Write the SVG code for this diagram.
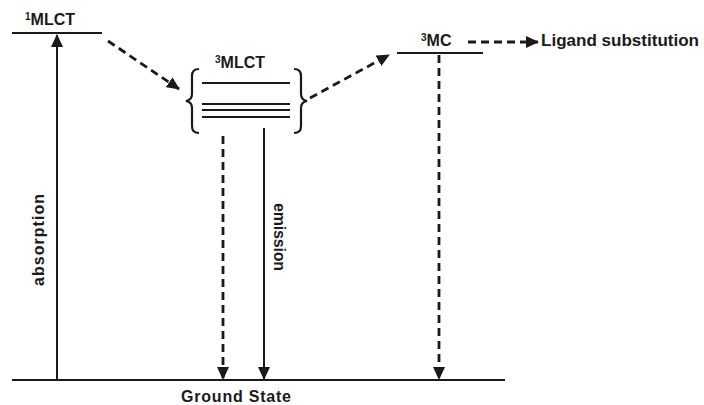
<svg xmlns="http://www.w3.org/2000/svg" width="704" height="405" viewBox="0 0 704 405">
<style>
text{font-family:"Liberation Sans",Arial,sans-serif;font-weight:bold;font-size:16px;fill:#1a1a1a}
.sup{font-size:10px}
.lv{stroke:#1a1a1a;stroke-width:2;fill:none}
.sol{stroke:#1a1a1a;stroke-width:2;fill:none}
.dash{stroke:#1a1a1a;stroke-width:2.8;fill:none;stroke-dasharray:8,5}
.br{stroke:#1a1a1a;stroke-width:2.2;fill:none}
</style>
<defs>
<marker id="ah" viewBox="0 0 13 12" refX="12" refY="6" markerWidth="13" markerHeight="12" markerUnits="userSpaceOnUse" orient="auto">
<path d="M0,0 L13,6 L0,12 Z" fill="#1a1a1a"/>
</marker>
</defs>
<rect width="704" height="405" fill="#fff"/>
<g id="mlct1">
<line class="lv" x1="12" y1="33" x2="102" y2="33"/>
<text x="25" y="25"><tspan class="sup" dy="-5">1</tspan><tspan dy="5">MLCT</tspan></text>
</g>
<g id="mlct3">
<text x="215" y="68"><tspan class="sup" dy="-5">3</tspan><tspan dy="5">MLCT</tspan></text>
<line class="lv" x1="202" y1="83" x2="290" y2="83" stroke-width="1.5"/>
<line class="lv" x1="202" y1="104" x2="290" y2="104"/>
<line class="lv" x1="202" y1="110" x2="290" y2="110"/>
<line class="lv" x1="202" y1="117" x2="290" y2="117"/>
<path class="br" d="M199,69 Q192,69 192,76 L192,94 Q192,100 186,101 Q192,102 192,108 L192,126 Q192,133 199,133"/>
<path class="br" d="M294,69 Q301,69 301,76 L301,94 Q301,100 307,101 Q301,102 301,108 L301,126 Q301,133 294,133"/>
</g>
<g id="mc3">
<line class="lv" x1="397" y1="53" x2="483" y2="53"/>
<text x="421" y="46"><tspan class="sup" dy="-5">3</tspan><tspan dy="5">MC</tspan></text>
</g>
<g id="ligand">
<text x="541" y="46" textLength="158" lengthAdjust="spacingAndGlyphs">Ligand substitution</text>
</g>
<g id="ground">
<line class="lv" x1="12" y1="380" x2="505" y2="380"/>
<text x="181" y="402" textLength="110">Ground State</text>
</g>
<g id="connectors">
<line class="sol" x1="57" y1="380" x2="57" y2="35" marker-end="url(#ah)"/>
<text transform="translate(44,240) rotate(-90)" text-anchor="middle" textLength="92">absorption</text>
<line class="dash" x1="108" y1="41" x2="179" y2="89" marker-end="url(#ah)"/>
<line class="dash" x1="310" y1="98" x2="389" y2="55" marker-end="url(#ah)"/>
<line class="dash" x1="468" y1="42" x2="538" y2="42" marker-end="url(#ah)"/>
<line class="dash" x1="223" y1="136" x2="223" y2="379" marker-end="url(#ah)"/>
<line class="sol" x1="264" y1="128" x2="264" y2="379" marker-end="url(#ah)"/>
<text transform="translate(274,237) rotate(90)" text-anchor="middle" textLength="68">emission</text>
<line class="dash" x1="439" y1="55" x2="439" y2="379" marker-end="url(#ah)"/>
</g>
</svg>
